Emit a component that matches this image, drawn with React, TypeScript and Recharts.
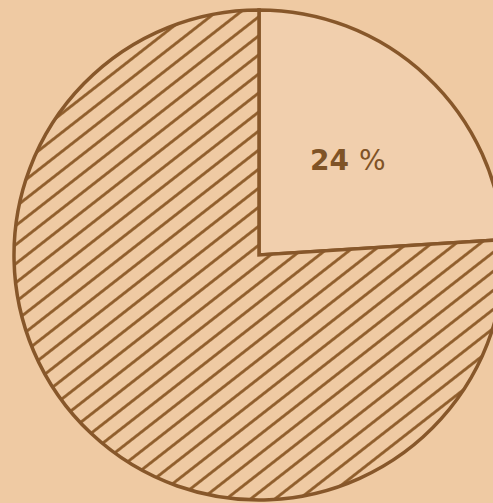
import { PieChart, Pie, Cell } from 'recharts';

const labels = ['24', ''];
const shares = [24, 76];
const fills = ['#f1cfad', 'url(#hatch)'];

const data = labels.map((name, i) => ({ name, value: shares[i] }));

const RADIAN = Math.PI / 180;

function renderLabel(props: any) {
  const { cx, cy, midAngle, outerRadius, index } = props;
  if (!labels[index]) return null;
  const r = outerRadius * 0.53;
  const x = cx + r * Math.cos(-midAngle * RADIAN);
  const y = cy + r * Math.sin(-midAngle * RADIAN);
  return (
    <text
      x={x}
      y={y}
      textAnchor="middle"
      dominantBaseline="central"
      fill="#7f5326"
      fontFamily="DejaVu Sans, sans-serif"
      fontSize={28}
    >
      <tspan fontWeight="bold">{labels[index]}</tspan>
      <tspan dx={10}>%</tspan>
    </text>
  );
}

export default function App() {
  return (
    <div
      style={{
        position: 'fixed',
        top: 0,
        left: 0,
        width: 493,
        height: 503,
        background: '#efcaa3',
        overflow: 'hidden',
      }}
    >
      <svg width={0} height={0} style={{ position: 'absolute' }}>
        <defs>
          <pattern
            id="hatch"
            patternUnits="userSpaceOnUse"
            width={20}
            height={15}
            patternTransform="rotate(-38)"
          >
            <rect width={20} height={15} fill="#efcaa3" />
            <line x1={0} y1={7.5} x2={20} y2={7.5} stroke="#8d5b28" strokeWidth={2.8} />
          </pattern>
        </defs>
      </svg>
      <PieChart width={493} height={503} margin={{ top: 0, right: 0, bottom: 0, left: 0 }}>
        <Pie
          data={data}
          dataKey="value"
          cx={259}
          cy={255}
          outerRadius={245}
          startAngle={90}
          endAngle={-270}
          stroke="#87572a"
          strokeWidth={3.5}
          label={renderLabel}
          labelLine={false}
          isAnimationActive={false}
        >
          {data.map((d, i) => (
            <Cell key={d.name + i} fill={fills[i]} />
          ))}
        </Pie>
      </PieChart>
    </div>
  );
}
